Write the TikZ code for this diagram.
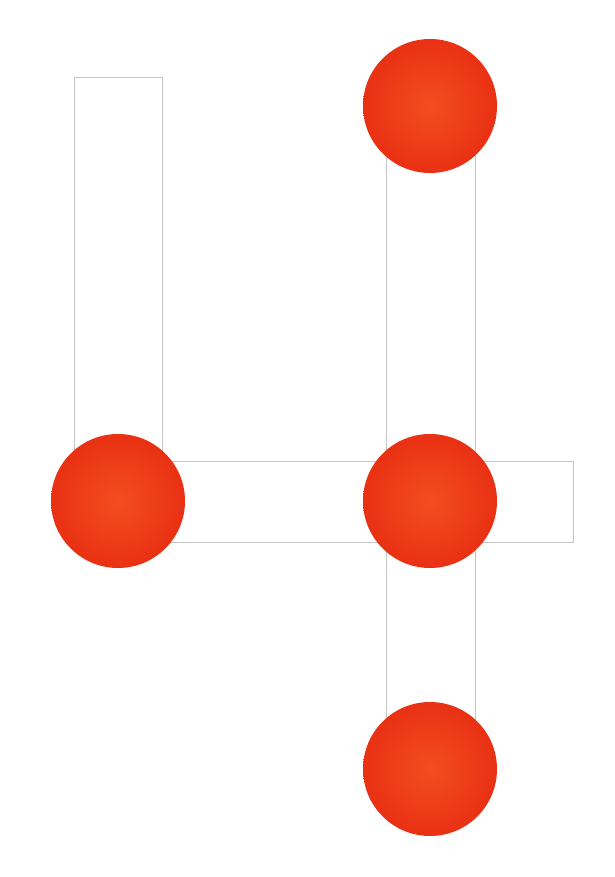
\documentclass[tikz,border=0pt]{standalone}
\definecolor{ballin}{RGB}{243,78,32}
\definecolor{ballmid}{RGB}{233,50,20}
\definecolor{ballout}{RGB}{222,32,12}
\definecolor{edgegray}{RGB}{198,198,198}
\pgfdeclareradialshading{ballshade}{\pgfpoint{0bp}{0bp}}{color(0bp)=(ballin); color(24bp)=(ballmid); color(50bp)=(ballout); color(75bp)=(ballout)}
\tikzset{
  bar/.style={draw=edgegray, line width=0.7pt, fill=white},
  ball/.style={circle, minimum size=134pt, inner sep=0pt, shading=ballshade}
}
\begin{document}
\begin{tikzpicture}[x=1pt,y=-1pt]
\useasboundingbox (0,0) rectangle (614,877);
% bars
\draw[bar] (74,77) rectangle (162,461);
\draw[bar] (118,461) rectangle (573,542);
\draw[bar] (386,106) rectangle (475,769);
% balls
\node[ball] (top) at (430,106) {};
\node[ball] (left) at (118,501) {};
\node[ball] (mid) at (430,501) {};
\node[ball] (bot) at (430,769) {};
\end{tikzpicture}
\end{document}
